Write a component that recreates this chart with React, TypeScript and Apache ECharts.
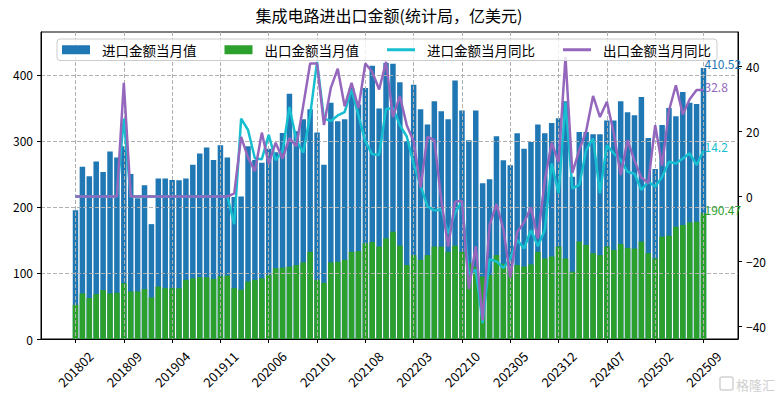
import React, { useEffect, useRef } from 'react';
import * as echarts from 'echarts';

const TITLE = '集成电路进出口金额(统计局，亿美元)';
const NAME_IMPORT = '进口金额当月值';
const NAME_EXPORT = '出口金额当月值';
const NAME_IMPORT_YOY = '进口金额当月同比';
const NAME_EXPORT_YOY = '出口金额当月同比';

const START_YEAR = 2018;
const START_MONTH = 2;
const MONTH_COUNT = 92;
const months: string[] = [];
for (let k = 0; k < MONTH_COUNT; k++) {
  const m = START_MONTH - 1 + k;
  months.push(`${START_YEAR + Math.floor(m / 12)}${String((m % 12) + 1).padStart(2, '0')}`);
}

const tickLabels = ['201802', '201809', '201904', '201911', '202006', '202101', '202108', '202203', '202210', '202305', '202312', '202407', '202502', '202509'];

const importValue = [
  195, 261, 246.6, 269, 253, 284, 275, 292, 250, 213,
  233, 174, 243, 243, 241, 240.6, 243, 264, 281, 290,
  271, 293.5, 275, 215, 216, 292, 271, 267, 288, 283,
  312, 371.5, 314.6, 333, 348, 312.7, 264, 358, 330, 333,
  380, 355, 380, 414, 349, 418, 417, 389, 299.5, 385,
  348, 325, 360, 345, 333, 391.6, 346, 301, 346, 236,
  242, 307, 270.7, 263, 311.5, 288, 298.5, 325, 311.5, 327,
  334.5, 360, 245.6, 313.7, 313.7, 310, 310, 331, 331, 360,
  343.5, 339, 366.5, 304.6, 257.5, 324, 350, 337.5, 374, 358,
  356, 410.52,
];

const exportValue = [
  51.8, 69, 62, 68, 74, 69, 70, 84.5, 72, 72,
  75.5, 63, 79.5, 77, 77, 77, 89.6, 92, 93.6, 93.6,
  91, 95, 96, 77, 74.5, 87, 89.6, 92, 97, 107,
  108, 109.6, 112, 116, 132, 89.6, 85, 116, 117, 120,
  132, 133, 145, 147, 140, 152.5, 162.5, 141.4, 112, 127,
  120, 127, 140, 140, 132, 141.4, 132, 114.7, 109.6, 94.6,
  97, 127, 114, 109.6, 112, 109.6, 113, 132, 122, 125,
  140, 122, 102, 147.5, 142.5, 130, 127, 140, 135, 144,
  138, 137, 147.5, 130, 122, 155, 156.5, 170, 172.6, 176.6,
  177.6, 190.47,
];

const importYoY = [
  0, 0, 0, 0, 0, 0, 0, 24, 0, 0,
  0, 0, 0, 0, 0, 0, 0, 0, 0, 0,
  0, 0, 0, -8.5, 24, 20.5, 11.7, 11.5, 19, 11.2,
  14, 27.6, 17.4, 13.5, 25, 41.5, 24, 23.3, 25, 26,
  33, 25, 17, 13, 12.8, 27, 27.3, 22, 18.5, 10,
  3.3, -3, -4.3, -4, -11.4, -5, -1.5, -24, -22.5, -39,
  -19.3, -20, -22, -19.2, -13.3, -16, -10.3, -15.3, -10.3, 10.2,
  1, 29, 2.5, 3.5, 14.3, 17.9, 1, 15.8, 13.3, 11.2,
  7.6, 7, 2, 4.6, 3, 6, 10.7, 10.2, 11.7, 13.3,
  9.7, 14.2,
];

const exportYoY = [
  0, 0, 0, 0, 0, 0, 0, 35, 0, 0,
  0, 0, 0, 0, 0, 0, 0, 0, 0, 0,
  0, 0, 0, 1, 18.4, 12, 7.8, 19.7, 10, 16.6,
  11.7, 18, 15.5, 28, 41, 41, 22, 33.5, 39.4, 27.8,
  35, 27.3, 41, 38.4, 33, 41.5, 24.5, 31, 22, 17,
  2.8, 18.4, 17.4, -1, -15.5, -1.6, -1.3, -28.5, -15.3, -38.2,
  -8.8, -2.3, -10, -25, -11, -8, -3.3, -13, 5, 16.6,
  10.5, 43, 7.3, 14.3, 20.2, 31, 24.5, 29.2, 19.5, 6.6,
  17.4, 11, 5.8, 4.2, 22, 9.5, 26.5, 34.3, 25.3, 30,
  32.8, 32.8,
];

const leftTicks = [0, 100, 200, 300, 400];
const rightTicks = [-40, -20, 0, 20, 40];

const BLUE = '#1f77b4';
const GREEN = '#2ca02c';
const CYAN = '#17becf';
const PURPLE = '#9467bd';
const FONT = '"Noto Sans CJK SC", "Noto Sans", sans-serif';
const GRID_LINE = { type: [4, 2] as any, color: '#b0b0b0', width: 1 };
const LINE_ICON = 'path://M0,0M28,9M0,3h28v3h-28z';

const PAD = 5; // empty slots each side (matplotlib-like axis margins)
const categories: string[] = [];
for (let k = 0; k < PAD; k++) categories.push(`_l${k}`);
months.forEach((m) => categories.push(m));
for (let k = 0; k < PAD; k++) categories.push(`_r${k}`);

const isTick = (index: number) => {
  const d = index - PAD;
  return d >= 0 && d < MONTH_COUNT && tickLabels.includes(months[d]);
};
const pairs = (arr: number[]) => arr.map((v, i) => [i + PAD, v]);
const minus = (v: number) => (v < 0 ? '\u2212' + Math.abs(v) : String(v));

export default function App() {
  const ref = useRef<HTMLDivElement>(null);
  useEffect(() => {
    const el = ref.current;
    if (!el) return;
    const chart = echarts.init(el, null, { renderer: 'svg' });
    const option: any = {
      animation: false,
      backgroundColor: '#ffffff',
      title: {
        text: TITLE,
        left: 'center',
        top: 7,
        padding: 0,
        textStyle: { fontFamily: FONT, fontSize: 16, fontWeight: 'normal', color: '#000' },
      },
      legend: {
        left: 57,
        top: 39,
        padding: [4, 6, 4, 5],
        itemGap: 28,
        itemWidth: 28,
        itemHeight: 9,
        z: 10,
        backgroundColor: 'rgba(255,255,255,0.8)',
        borderColor: '#cccccc',
        borderWidth: 1,
        borderRadius: 3,
        textStyle: { fontFamily: FONT, fontSize: 13.5, color: '#000', padding: [0, 0, 0, 7] },
        data: [
          { name: NAME_IMPORT, icon: 'rect' },
          { name: NAME_EXPORT, icon: 'rect' },
          { name: NAME_IMPORT_YOY, icon: LINE_ICON },
          { name: NAME_EXPORT_YOY, icon: LINE_ICON },
        ],
      },
      grid: {
        left: 41,
        right: 40,
        top: 32,
        bottom: 58,
        containLabel: false,
        outerBoundsMode: 'none',
        show: true,
        borderColor: '#000',
        borderWidth: 1,
        backgroundColor: 'transparent',
      },
      xAxis: {
        type: 'category',
        data: categories,
        boundaryGap: false,
        z: 3,
        axisLine: { show: true, lineStyle: { color: '#000', width: 1 } },
        axisTick: { show: true, interval: isTick, length: 4, lineStyle: { color: '#000' } },
        axisLabel: {
          interval: isTick,
          rotate: 45,
          align: 'center',
          verticalAlign: 'middle',
          margin: 30,
          fontSize: 13,
          fontFamily: FONT,
          color: '#000',
        },
        splitLine: { show: true, interval: isTick, lineStyle: GRID_LINE },
      },
      yAxis: [
        {
          type: 'value',
          position: 'left',
          min: 0,
          max: 465,
          interval: 100,
          z: 3,
          axisLine: { show: true, lineStyle: { color: '#000' } },
          axisTick: { show: true, length: 4, lineStyle: { color: '#000' }, customValues: leftTicks },
          axisLabel: { margin: 8, fontSize: 12, fontFamily: FONT, color: '#000', customValues: leftTicks },
          splitLine: { show: true, lineStyle: GRID_LINE },
        },
        {
          type: 'value',
          position: 'right',
          min: -43.9,
          max: 50.7,
          z: 3,
          axisLine: { show: true, lineStyle: { color: '#000' } },
          axisTick: { show: true, length: 4, lineStyle: { color: '#000' }, customValues: rightTicks },
          axisLabel: {
            margin: 8,
            fontSize: 12,
            fontFamily: FONT,
            color: '#000',
            customValues: rightTicks,
            formatter: (v: number) => minus(v),
          },
          splitLine: { show: false },
        },
      ],
      series: [
        {
          name: NAME_IMPORT,
          type: 'bar',
          yAxisIndex: 0,
          barWidth: 5.5,
          barGap: '-100%',
          z: 2,
          itemStyle: { color: BLUE },
          data: pairs(importValue),
        },
        {
          name: NAME_EXPORT,
          type: 'bar',
          yAxisIndex: 0,
          barWidth: 5.5,
          barGap: '-100%',
          z: 2,
          itemStyle: { color: GREEN },
          data: pairs(exportValue),
        },
        {
          name: NAME_IMPORT_YOY,
          type: 'line',
          yAxisIndex: 1,
          symbol: 'none',
          z: 4,
          itemStyle: { color: CYAN },
          lineStyle: { color: CYAN, width: 2.5 },
          data: pairs(importYoY),
        },
        {
          name: NAME_EXPORT_YOY,
          type: 'line',
          yAxisIndex: 1,
          symbol: 'none',
          z: 4,
          itemStyle: { color: PURPLE },
          lineStyle: { color: PURPLE, width: 2.5 },
          data: pairs(exportYoY),
        },
      ],
    };
    chart.setOption(option);

    const last = MONTH_COUNT - 1;
    const lastX = PAD + last;
    const ends = [
      { v: importValue[last], axis: 0, color: BLUE },
      { v: exportYoY[last], axis: 1, color: PURPLE },
      { v: importYoY[last], axis: 1, color: CYAN },
      { v: exportValue[last], axis: 0, color: GREEN },
    ];
    const graphics: any[] = ends.map((e) => {
      const p = chart.convertToPixel({ xAxisIndex: 0, yAxisIndex: e.axis } as any, [lastX, e.v]) as number[];
      return {
        type: 'text',
        x: p[0] + 1,
        y: p[1] - 4,
        z: 20,
        style: { text: String(e.v), fill: e.color, fontSize: 12, fontFamily: FONT, align: 'left', verticalAlign: 'middle' },
      };
    });
    graphics.push({
      type: 'rect',
      shape: { x: 720, y: 377, width: 13, height: 13, r: 2 },
      style: { fill: 'none', stroke: '#d2d2d2', lineWidth: 1.5 },
      z: 20,
    });
    graphics.push({
      type: 'text',
      x: 736,
      y: 384,
      z: 20,
      style: { text: '格隆汇', fill: '#cfcfcf', fontSize: 13, fontFamily: FONT, align: 'left', verticalAlign: 'middle' },
    });
    chart.setOption({ graphic: graphics });

    return () => chart.dispose();
  }, []);

  return (
    <div
      ref={ref}
      style={{ position: 'fixed', left: 0, top: 0, width: 778, height: 397, background: '#fff' }}
    />
  );
}
